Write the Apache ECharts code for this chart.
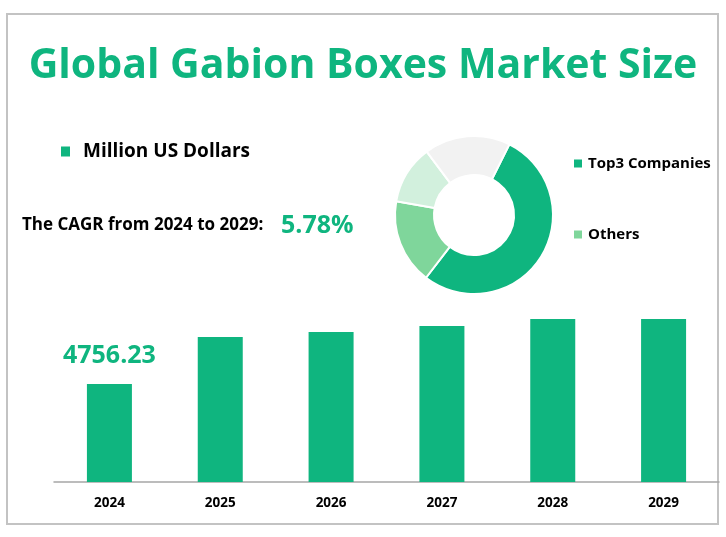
<!DOCTYPE html>
<html><head><meta charset="utf-8">
<script src="https://cdn.jsdelivr.net/npm/echarts@6/dist/echarts.min.js"></script>
<style>html,body{margin:0;padding:0;background:#fff}#c{width:726px;height:537px}</style>
</head><body><div id="c"></div>
<script>
const years = ['2024', '2025', '2026', '2027', '2028', '2029'];
const marketSize = [4756.23, 7040, 7280, 7570, 7910, 7910];
const shareNames = ['Top3 Companies', 'Others', 'Segment 3', 'Segment 4'];
const shareValues = [53, 17.4, 12, 17.6];
const legendNames = ['Top3 Companies', 'Others'];
const cagrText = 'The CAGR from 2024 to 2029:';
const cagrValue = '5.78%';
const titleText = 'Global Gabion Boxes Market Size';
const unitName = 'Million US Dollars';

const GREEN = '#0fb57f';
const FONT = '"Open Sans", "Noto Sans", sans-serif';
const chart = echarts.init(document.getElementById('c'));
chart.setOption({
  backgroundColor: '#fff',
  animation: false,
  title: {
    text: titleText, left: 'center', top: 41,
    textStyle: { color: GREEN, fontSize: 41, fontWeight: 'bold', fontFamily: FONT }
  },
  graphic: [
    { type: 'rect', shape: { x: 7, y: 14, width: 711, height: 510 },
      style: { fill: 'none', stroke: '#c3c3c3', lineWidth: 2 }, silent: true },
    { type: 'text', left: 22, top: 217,
      style: { text: cagrText, fill: '#000', font: 'bold 17px ' + FONT } },
    { type: 'text', left: 281, top: 213,
      style: { text: cagrValue, fill: GREEN, font: 'bold 25px ' + FONT } }
  ],
  legend: [
    { data: [unitName], left: 56, top: 137, itemWidth: 9, itemHeight: 10, icon: 'rect', itemGap: 10,
      textStyle: { color: '#000', fontSize: 19, fontWeight: 'bold', fontFamily: FONT, padding: [0, 0, 0, 8] } },
    { data: legendNames, orient: 'vertical', left: 567, top: 151, itemWidth: 10, itemHeight: 10, icon: 'rect', itemGap: 56,
      textStyle: { color: '#000', fontSize: 15, fontWeight: 'bold', fontFamily: FONT } }
  ],
  grid: { left: 54, right: 7, top: 276, bottom: 55 },
  xAxis: {
    type: 'category', data: years,
    axisLine: { lineStyle: { color: '#a6a6a6', width: 1.5 } },
    axisTick: { show: false },
    axisLabel: { color: '#000', fontSize: 13.5, fontWeight: 'bold', fontFamily: FONT, margin: 14 }
  },
  yAxis: { type: 'value', min: 0, max: 10000, show: false, splitLine: { show: false } },
  series: [
    { name: unitName, type: 'bar', data: marketSize, barWidth: 45,
      itemStyle: { color: GREEN },
      label: { show: true, position: 'top', distance: 16, color: GREEN, fontSize: 25, fontWeight: 'bold', fontFamily: FONT,
        formatter: p => p.dataIndex === 0 ? p.value.toFixed(2) : '' } },
    { name: 'share', type: 'pie', center: [474, 215], radius: [40, 79], startAngle: 63.4,
      label: { show: false }, labelLine: { show: false },
      itemStyle: { borderColor: '#fff', borderWidth: 2 },
      color: [GREEN, '#7fd69b', '#d2f0dd', '#f2f2f2'],
      data: shareNames.map((n, i) => ({ name: n, value: shareValues[i] })) }
  ]
});
</script></body></html>
